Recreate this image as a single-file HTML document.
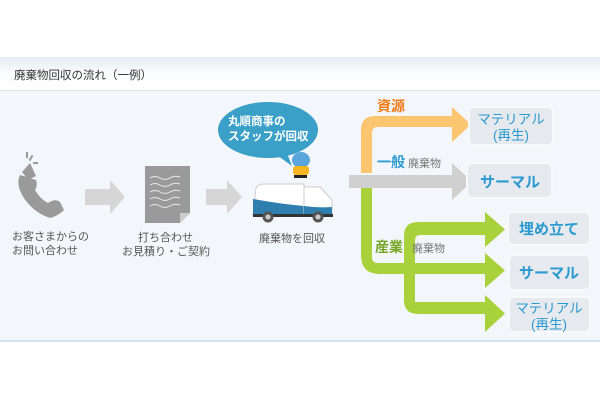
<!DOCTYPE html>
<html><head><meta charset="utf-8"><style>
html,body{margin:0;padding:0;background:#fff;width:600px;height:400px;overflow:hidden}
svg{display:block}
text{font-family:"Liberation Sans","Noto Sans CJK JP",sans-serif}
</style></head><body>
<svg width="600" height="400" viewBox="0 0 600 400" xmlns="http://www.w3.org/2000/svg">
<defs>
<linearGradient id="hd" x1="0" y1="0" x2="0" y2="1"><stop offset="0" stop-color="#e3ebf3"/><stop offset="0.5" stop-color="#fbfcfd"/><stop offset="1" stop-color="#fff"/></linearGradient>
</defs>
<rect x="0" y="57" width="600" height="33" fill="url(#hd)"/>
<line x1="0" y1="90.5" x2="600" y2="90.5" stroke="#dde3ea"/>
<rect x="0" y="91" width="600" height="249" fill="#f3f6fa"/>
<rect x="0" y="340" width="600" height="2" fill="#d3e2ee"/>
<text x="14" y="79" font-size="11.5" fill="#333">廃棄物回収の流れ（一例）</text>

<!-- phone -->
<g fill="#9a9a9a">
<path d="M20 175 Q16 183 22 195 Q32 212 50 218 Q58 216 64 210 L60 202 Q55 198 48 203 Q40 199 35 190 Q38 185 36 180 Z"/>
<path d="M22 172 L30 163 L36 176 L28 180 Z"/>
<rect x="26" y="152" width="2" height="6"/><rect x="30" y="155" width="2" height="6" transform="rotate(30 31 158)"/><rect x="33" y="162" width="5" height="2"/>
</g>
<text x="12" y="240" font-size="11" fill="#555">お客さまからの</text>
<text x="12" y="254" font-size="11" fill="#555">お問い合わせ</text>
<path d="M85 189 H110 V180 L125 197 L110 214 V205 H85 Z" fill="#d6d6d6"/>
<path d="M145 166 H190 V213 L180 223 H145 Z" fill="#9a9a9a"/>
<path d="M180 223 L190 213 H180 Z" fill="#ccc"/>
<g stroke="#e8e8e8" stroke-width="1" fill="none">
<path d="M150 178 q5 -3 10 0 t10 0 t10 -1"/><path d="M150 185 q5 -3 10 0 t10 0 t10 -1"/><path d="M150 192 q5 -3 10 0 t10 0 t10 -1"/><path d="M150 199 q5 -3 10 0 t10 0 t10 -1"/><path d="M150 206 q5 -3 10 0 t10 0 t10 -1"/></g>
<text x="138" y="241" font-size="11" fill="#555">打ち合わせ</text>
<text x="122" y="255" font-size="11" fill="#555">お見積り・ご契約</text>
<path d="M206 189 H227 V180 L242 197 L227 214 V205 H206 Z" fill="#d6d6d6"/>
<ellipse cx="268" cy="130" rx="50" ry="28" fill="#3aa0c8"/>
<path d="M270 150 L292 166 L285 148 Z" fill="#3aa0c8"/>
<text x="228" y="125" font-size="11.5" font-weight="bold" fill="#fff">丸順商事の</text>
<text x="228" y="140" font-size="11.5" font-weight="bold" fill="#fff">スタッフが回収</text>
<ellipse cx="301" cy="160" rx="9" ry="8" fill="#5aa6dc"/>
<rect x="293" y="166" width="16" height="9" rx="3" fill="#f5b520"/>
<rect x="294" y="175" width="13" height="3" fill="#222"/>
<path d="M256 188 Q258 184 264 184 H304 V215 H253 Z" fill="#fff" stroke="#ccc"/>
<path d="M253 199 Q280 204 304 206 V215 H253 Z" fill="#2e7fb0"/>
<path d="M304 187 H320 L332 200 V215 H304 Z" fill="#fff" stroke="#ccc"/>
<path d="M304 206 Q318 208 332 207 V215 H304 Z" fill="#2e7fb0"/>
<rect x="253" y="214" width="80" height="3" fill="#333"/>
<circle cx="268" cy="217" r="5.5" fill="#555"/><circle cx="268" cy="217" r="2.5" fill="#ccc"/>
<circle cx="318" cy="217" r="5.5" fill="#555"/><circle cx="318" cy="217" r="2.5" fill="#ccc"/>
<text x="259" y="242" font-size="11" fill="#555">廃棄物を回収</text>

<path d="M361 173 V130 Q361 116 375 116 H452 V107 L471 124.5 L452 142 V127 H378 Q372 127 372 133 V173 Z" fill="#fcc570"/>
<text x="377" y="111" font-size="14" font-weight="bold" fill="#f07a14">資源</text>
<path d="M361 188 V255 Q361 274 380 274 H485 V288 L505 270.5 L485 253 V263 H378 Q372 263 372 257 V188 Z" fill="#a8d13b"/>
<path d="M404 318 V236 Q404 222 418 222 H485 V212 L505 229.5 L485 247 V235 H420 Q415 235 415 241 V302 H485 V295 L505 313.5 L485 332 V314 H418 Q404 314 404 300 Z" fill="#a8d13b"/>
<text x="375" y="252" font-size="14" font-weight="bold" fill="#76a523">産業</text>
<text x="412" y="252" font-size="11" fill="#777">廃棄物</text>
<path d="M349 175 H452 V163 L472 181.5 L452 200 V188 H349 Z" fill="#d0d0d0"/>
<text x="377" y="167" font-size="14" font-weight="bold" fill="#2b9ad0">一般</text>
<text x="408" y="167" font-size="11" fill="#777">廃棄物</text>

<g fill="#e6eaee" stroke="#f7f9fb" stroke-width="2">
<rect x="469" y="107" width="84" height="38" rx="5"/>
<rect x="467" y="163" width="85" height="35" rx="5"/>
<rect x="508" y="212" width="82" height="33" rx="5"/>
<rect x="509" y="255" width="81" height="35" rx="5"/>
<rect x="509" y="297" width="81" height="35" rx="5"/>
</g>
<g fill="#2b9ad0" text-anchor="middle">
<text x="511" y="124" font-size="13.5">マテリアル</text>
<text x="511" y="140" font-size="13.5">(再生)</text>
<text x="510" y="187" font-size="15" font-weight="bold">サーマル</text>
<text x="549" y="234" font-size="15" font-weight="bold">埋め立て</text>
<text x="549" y="278" font-size="15" font-weight="bold">サーマル</text>
<text x="549" y="313" font-size="13.5">マテリアル</text>
<text x="549" y="329" font-size="13.5">(再生)</text>
</g>
</svg>
</body></html>
